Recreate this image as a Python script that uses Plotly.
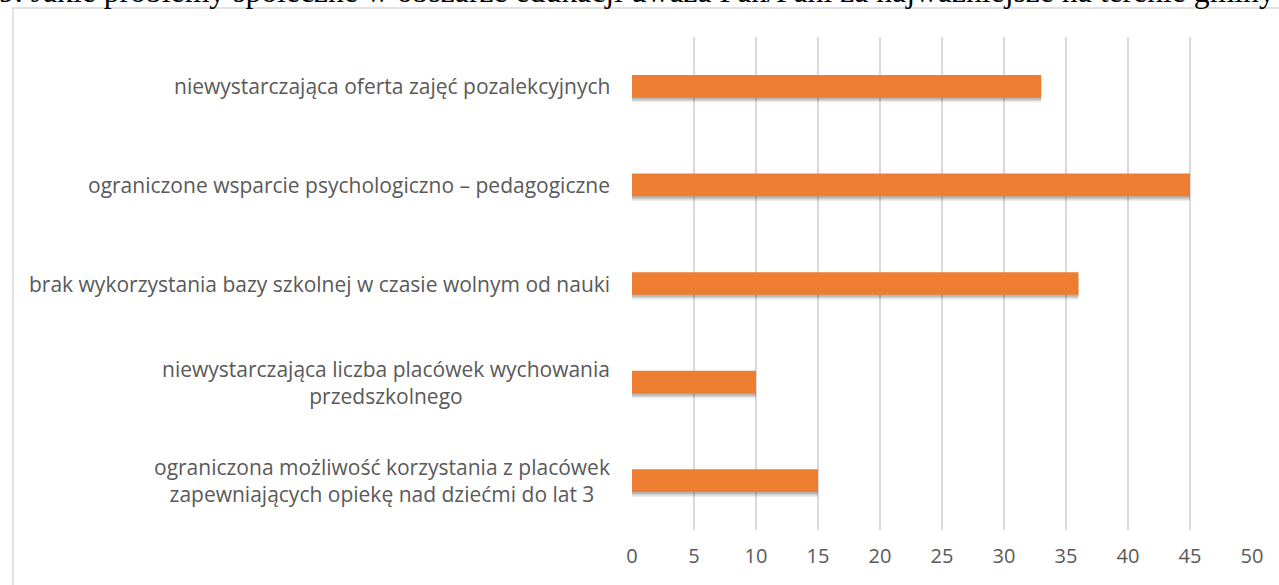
import plotly.graph_objects as go

categories = [
    "ograniczona możliwość korzystania z placówek<br>zapewniających opiekę nad dziećmi do lat 3",
    "niewystarczająca liczba placówek wychowania<br>przedszkolnego",
    "brak wykorzystania bazy szkolnej w czasie wolnym od nauki",
    "ograniczone wsparcie psychologiczno – pedagogiczne",
    "niewystarczająca oferta zajęć pozalekcyjnych",
]
values = [15, 10, 36, 45, 33]
tick_vals = [0, 5, 10, 15, 20, 25, 30, 35, 40, 45, 50]
title_text = "9. Jakie problemy społeczne w obszarze edukacji uważa Pan/Pani za najważniejsze na terenie gminy"

W, H = 1279, 585
ML, MR, MT, MB = 632, 27, 37, 55
pw = W - ML - MR
ph = H - MT - MB

def px_to_paper_x(px):
    return (px - ML) / pw

def px_to_paper_y(py):
    return (H - MB - py) / ph

bar_w = 0.23
fig = go.Figure()
# soft shadow layers
for dy, a in [(0.05, 0.07), (0.035, 0.10), (0.02, 0.14)]:
    fig.add_trace(go.Bar(
        y=categories, x=values, orientation="h",
        width=bar_w, offset=-bar_w / 2 - dy,
        marker=dict(color=f"rgba(0,0,0,{a})", line=dict(width=0)),
        hoverinfo="skip", showlegend=False,
    ))
fig.add_trace(go.Bar(
    y=categories, x=values, orientation="h",
    width=bar_w, offset=-bar_w / 2,
    marker=dict(color="#ED7D31", line=dict(width=0)),
    showlegend=False,
))

# category labels as centered multi-line annotations
for c in categories:
    fig.add_annotation(
        x=px_to_paper_x(612), xref="paper", y=c, yref="y",
        text=c, showarrow=False, xanchor="right", yanchor="middle",
        align="center", font=dict(family="Open Sans", size=21, color="#595959"),
    )

# clipped document title above chart
fig.add_annotation(
    x=px_to_paper_x(-3), xref="paper", y=px_to_paper_y(11), yref="paper",
    text=title_text, showarrow=False, xanchor="left", yanchor="bottom",
    font=dict(family="Liberation Serif", size=31.7, color="#000000"),
)

# chart frame
fig.add_shape(
    type="rect", xref="paper", yref="paper",
    x0=px_to_paper_x(13), x1=px_to_paper_x(W + 20),
    y0=px_to_paper_y(H + 20), y1=px_to_paper_y(8),
    line=dict(color="#D9D9D9", width=1.5), fillcolor="rgba(0,0,0,0)", layer="below",
)

fig.update_layout(
    width=W, height=H,
    margin=dict(l=ML, r=MR, t=MT, b=MB),
    paper_bgcolor="white", plot_bgcolor="white",
    barmode="overlay",
    xaxis=dict(
        range=[0, 50], tickvals=tick_vals, showgrid=True,
        gridcolor="#D9D9D9", gridwidth=1.5, zeroline=False, showline=False,
        ticks="", ticklabelstandoff=12,
        tickfont=dict(family="Open Sans", size=20, color="#595959"),
    ),
    yaxis=dict(
        categoryorder="array", categoryarray=categories,
        showticklabels=False, showgrid=False, zeroline=False, showline=False,
        range=[-0.5, len(categories) - 0.5],
    ),
)

fig.write_html(
    "out.html",
    config={"displayModeBar": False},
    post_script="document.body.style.margin='0';document.body.style.overflow='hidden';",
)
